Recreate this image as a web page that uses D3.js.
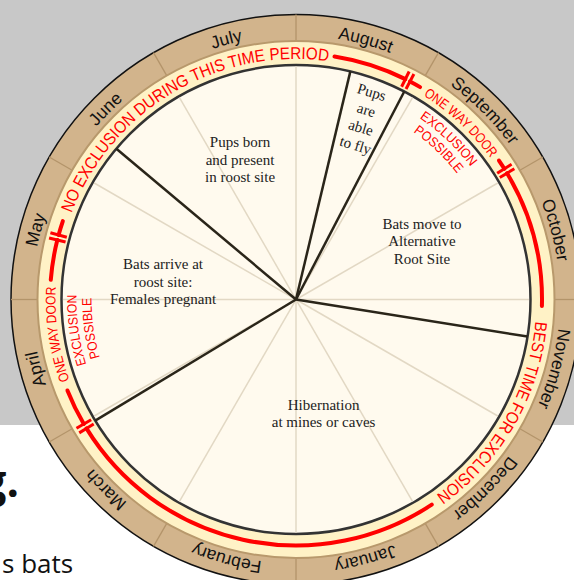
<!doctype html>
<html lang="en">
<head>
<meta charset="utf-8">
<title>Bat exclusion calendar</title>
<script src="https://d3js.org/d3.v7.min.js"></script>
<style>
  body { margin: 0; background: #fff; }
  svg { display: block; }
</style>
</head>
<body>
<svg width="574" height="580"></svg>
<script>
// months clockwise, starting at 12 o'clock
var months = ["August", "September", "October", "November", "December", "January",
              "February", "March", "April", "May", "June", "July"];

// phase boundaries, degrees clockwise from 12 o'clock
var phaseEdges = [13.4, 27.5, 99.1, 238.9, 310];
var phaseText = [
    ["Pups", "are", "able", "to fly"],
    ["Bats move to", "Alternative", "Root Site"],
    ["Hibernation", "at mines or caves"],
    ["Bats arrive at", "roost site:", "Females pregnant"],
    ["Pups born", "and present", "in roost site"]
];
var phaseTextAngle = [20.5, 65.1, 166.4, 277.7, 338.2];
var phaseTextRadius = [193, 138.9, 117.3, 134.2, 150.6];

// red exclusion ring
var redArcs = [[9, 26.4], [27.6, 30.3], [55.6, 57.9], [59.1, 91.5], [146.5, 238.4],
               [239.6, 248.3], [274.6, 284], [285.2, 288.6]];
var markers = [27, 58.5, 239, 284.6];
var redLabels = ["NO EXCLUSION DURING THIS TIME PERIOD", "ONE WAY DOOR", "BEST TIME FOR EXCLUSION", "ONE WAY DOOR"];
var redLabelSpan = [[291, 367.7], [32, 54], [95.2, 144.4], [250.4, 273]];
var noteLines = ["EXCLUSION", "POSSIBLE"];
var noteCenters = [43.5, 262];
var noteSpan = [18.5, 17];

var svg = d3.select("svg");
var cx = 296, cy = 299.5;
var rOuter = 285, rBand = 258.5, rInner = 234.5, rRed = 246;

var ang = d3.scaleLinear().domain([0, 360]).range([0, 2 * Math.PI]);
function pt(deg, r) {
    var a = ang(deg);
    return [cx + r * Math.sin(a), cy - r * Math.cos(a)];
}
function arcPath(d0, d1, r) {
    var p = d3.path();
    p.arc(cx, cy, r, ang(d0) - Math.PI / 2, ang(d1) - Math.PI / 2);
    return p.toString();
}

// page behind the wheel
svg.append("rect").attr("x", 0).attr("y", 0).attr("width", 574).attr("height", 425).attr("fill", "#c8c8c8");
svg.append("text").attr("x", 19).attr("y", 497).attr("text-anchor", "end")
    .style("font-family", "Open Sans").style("font-weight", "bold").style("font-size", "44px")
    .attr("fill", "#111").text("g.");
svg.append("text").attr("x", 2).attr("y", 573)
    .style("font-family", "Open Sans").style("font-size", "26px")
    .attr("fill", "#111").text("s bats");

var defs = svg.append("defs");

// rings
svg.append("circle").attr("cx", cx).attr("cy", cy).attr("r", rOuter)
    .attr("fill", "#d2b48c").attr("stroke", "#111").attr("stroke-width", 1.5);

svg.append("g").selectAll("line").data(months).enter().append("line")
    .attr("x1", function(d, i) { return pt(i * 30, rBand)[0]; })
    .attr("y1", function(d, i) { return pt(i * 30, rBand)[1]; })
    .attr("x2", function(d, i) { return pt(i * 30, rOuter)[0]; })
    .attr("y2", function(d, i) { return pt(i * 30, rOuter)[1]; })
    .attr("stroke", "#b3946a").attr("stroke-width", 1.3);

svg.append("circle").attr("cx", cx).attr("cy", cy).attr("r", rBand)
    .attr("fill", "#fff2c6").attr("stroke", "#b8996c").attr("stroke-width", 2);
svg.append("circle").attr("cx", cx).attr("cy", cy).attr("r", rInner)
    .attr("fill", "#fffaee").attr("stroke", "#333").attr("stroke-width", 2.5);

// light spokes
svg.append("g").selectAll("line").data(months).enter().append("line")
    .attr("x1", cx).attr("y1", cy)
    .attr("x2", function(d, i) { return pt(i * 30, rInner - 1.5)[0]; })
    .attr("y2", function(d, i) { return pt(i * 30, rInner - 1.5)[1]; })
    .attr("stroke", "#e2d8c4").attr("stroke-width", 1.5);

// phase boundaries
svg.append("g").selectAll("line").data(phaseEdges).enter().append("line")
    .attr("x1", cx).attr("y1", cy)
    .attr("x2", function(d) { return pt(d, rInner)[0]; })
    .attr("y2", function(d) { return pt(d, rInner)[1]; })
    .attr("stroke", "#2a2519").attr("stroke-width", 2.5);

// phase labels
phaseText.forEach(function(lines, i) {
    var p = pt(phaseTextAngle[i], phaseTextRadius[i]);
    var lh = i == 0 ? 18.5 : 17.5;
    var g = svg.append("g")
        .attr("transform", "translate(" + p[0] + "," + p[1] + ")" + (i == 0 ? " rotate(17)" : ""));
    g.selectAll("text").data(lines).enter().append("text")
        .attr("x", 0)
        .attr("y", function(d, j) { return (j - (lines.length - 1) / 2) * lh + 5; })
        .attr("text-anchor", "middle")
        .style("font-family", "Liberation Serif")
        .style("font-size", "15px")
        .attr("fill", "#222")
        .text(function(d) { return d; });
});

// red arcs
svg.append("g").selectAll("path").data(redArcs).enter().append("path")
    .attr("d", function(d) { return arcPath(d[0], d[1], rRed); })
    .attr("fill", "none").attr("stroke", "#ff0000").attr("stroke-width", 4)
    .attr("stroke-linecap", "round");

// double bar markers
markers.forEach(function(m) {
    [-0.6, 0.6].forEach(function(o) {
        var a = pt(m + o, 237.5), b = pt(m + o, 254.5);
        svg.append("line").attr("x1", a[0]).attr("y1", a[1]).attr("x2", b[0]).attr("y2", b[1])
            .attr("stroke", "#ff0000").attr("stroke-width", 3);
    });
});

// red labels along the band
redLabels.forEach(function(t, i) {
    var big = t.length > 14;
    var rb = 240.5;
    var s = redLabelSpan[i];
    defs.append("path").attr("id", "red" + i).attr("d", arcPath(s[0], s[1], rb));
    svg.append("text")
        .style("font-family", "Liberation Sans")
        .style("font-size", big ? "17px" : "14px")
        .attr("fill", "#ff0000")
        .append("textPath")
        .attr("href", "#red" + i)
        .attr("startOffset", "0")
        .attr("textLength", rb * ang(s[1] - s[0]))
        .attr("lengthAdjust", "spacingAndGlyphs")
        .text(t);
});

// exclusion possible notes inside the wheel
noteCenters.forEach(function(c, k) {
    noteLines.forEach(function(t, j) {
        var rb = j == 0 ? 219.5 : 204.5;
        var span = noteSpan[j];
        var id = "note" + k + "_" + j;
        defs.append("path").attr("id", id).attr("d", arcPath(c - span / 2, c + span / 2, rb));
        svg.append("text")
            .style("font-family", "Liberation Sans")
            .style("font-size", "13.5px")
            .attr("fill", "#ff0000")
            .append("textPath")
            .attr("href", "#" + id)
            .attr("textLength", rb * ang(span))
            .attr("lengthAdjust", "spacingAndGlyphs")
            .text(t);
    });
});

// month labels
months.forEach(function(m, i) {
    var c = i * 30 + 15;
    defs.append("path").attr("id", "month" + i).attr("d", arcPath(c - 60, c + 60, 264));
    svg.append("text")
        .style("font-family", "Liberation Sans")
        .style("font-size", "17.5px")
        .attr("fill", "#111")
        .attr("text-anchor", "middle")
        .append("textPath")
        .attr("href", "#month" + i)
        .attr("startOffset", "50%")
        .text(m);
});
</script>
</body>
</html>
